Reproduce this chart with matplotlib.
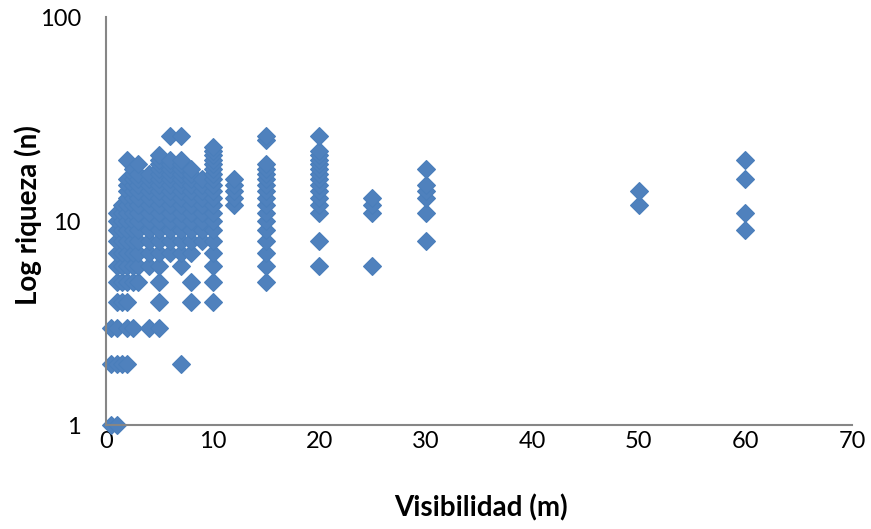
import numpy as np
import matplotlib.pyplot as plt
from matplotlib.ticker import FixedLocator, NullLocator, FuncFormatter

# visibility levels (m) and the richness values recorded at each
vis_levels = [0.5, 1, 1.5, 2, 2.5, 3, 4, 5, 6, 7, 8, 9, 10, 12, 15, 20, 25, 30, 50, 60]
richness = [
    [1, 2, 3],
    [1, 2, 3, 4, 5, 6, 7, 8, 9, 10, 11],
    [2, 4, 5, 6, 7, 8, 9, 10, 11, 12],
    [2, 3, 4, 5, 6, 7, 8, 9, 10, 11, 12, 13, 14, 15, 16, 20],
    [3, 5, 6, 7, 8, 9, 10, 11, 12, 13, 14, 15, 16, 17, 18],
    [5, 6, 7, 8, 9, 10, 11, 12, 13, 14, 15, 16, 17, 19],
    [3, 6, 7, 8, 9, 10, 11, 12, 13, 14, 15, 16, 17],
    [3, 4, 5, 6, 7, 8, 9, 10, 11, 12, 13, 14, 15, 16, 17, 18, 19, 20, 21],
    [7, 8, 9, 10, 11, 12, 13, 14, 15, 16, 17, 18, 19, 20, 26],
    [2, 6, 7, 8, 9, 10, 11, 12, 13, 14, 15, 16, 17, 18, 19, 20, 26],
    [4, 5, 7, 8, 9, 10, 11, 12, 13, 14, 15, 16, 17, 18],
    [8, 9, 10, 11, 12, 13, 14, 15, 16],
    [4, 5, 6, 7, 8, 9, 10, 11, 12, 13, 14, 15, 16, 17, 18, 19, 20, 21, 22, 23],
    [12, 13, 14, 15, 16],
    [5, 6, 7, 8, 9, 10, 11, 12, 13, 14, 15, 16, 17, 18, 19, 25, 26],
    [6, 8, 11, 12, 13, 14, 15, 16, 17, 18, 19, 20, 21, 22, 26],
    [6, 11, 12, 13],
    [8, 11, 13, 14, 15, 18],
    [12, 14],
    [9, 11, 16, 20],
]

x_ticks = [0, 10, 20, 30, 40, 50, 60, 70]
y_ticks = [1, 10, 100]

x = []
y = []
for v, rs in zip(vis_levels, richness):
    x += [v] * len(rs)
    y += rs

plt.rcParams['font.family'] = ['Lato', 'DejaVu Sans']

fig = plt.figure(figsize=(8.71, 5.29), dpi=100)
ax = fig.add_axes([106 / 871, 1 - 425 / 529, (852 - 106) / 871, (425 - 17) / 529])

ax.plot(x, y, linestyle='none', marker='D', markersize=9.6,
        markerfacecolor='#4F81BD', markeredgecolor='#4A7EBB', markeredgewidth=0.8,
        clip_on=False)

ax.set_yscale('log')
ax.set_xlim(0, 70)
ax.set_ylim(1, 100)
ax.xaxis.set_major_locator(FixedLocator(x_ticks))
ax.yaxis.set_major_locator(FixedLocator(y_ticks))
ax.yaxis.set_minor_locator(NullLocator())
ax.yaxis.set_major_formatter(FuncFormatter(lambda v, p: '%d' % v))

for s in ['top', 'right']:
    ax.spines[s].set_visible(False)
for s in ['left', 'bottom']:
    ax.spines[s].set_color('#868686')
    ax.spines[s].set_linewidth(1.5)

ax.tick_params(axis='both', length=0, labelsize=17, colors='black')
ax.tick_params(axis='x', pad=4)
ax.tick_params(axis='y', pad=18)

ax.set_xlabel('Visibilidad (m)', fontsize=20, fontweight='bold')
ax.set_ylabel('Log riqueza (n)', fontsize=20, fontweight='bold')
# place axis titles where the reference has them (pixel positions)
ax.xaxis.set_label_coords((481 - 106) / 746, -(508 - 425) / 408)
ax.yaxis.set_label_coords(-(106 - 28) / 746, (425 - 215) / 408)
ax.xaxis.label.set_va('center')
ax.yaxis.label.set_va('center')

fig.savefig('out.png', dpi=100)
